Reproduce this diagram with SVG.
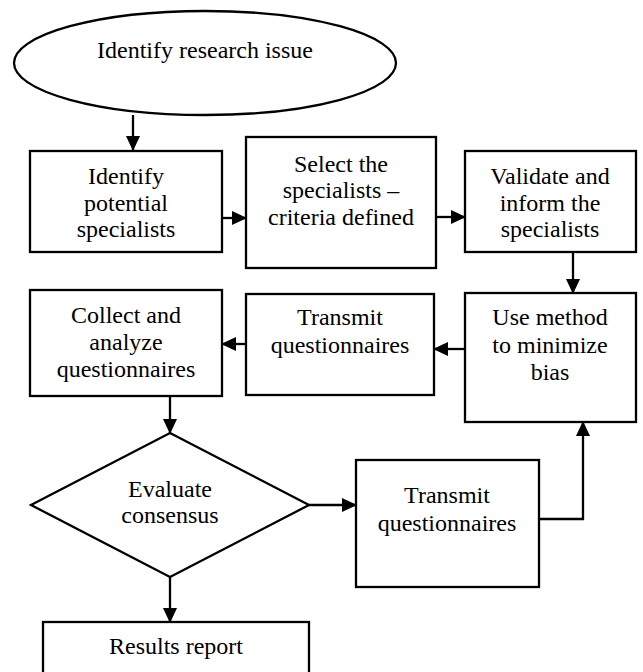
<svg xmlns="http://www.w3.org/2000/svg" width="643" height="672" viewBox="0 0 643 672">
<style>
.s{fill:#fff;stroke:#000;stroke-width:2.3}
.c{fill:none;stroke:#000;stroke-width:2.3}
text{font-family:"Liberation Serif","Times New Roman",serif;font-size:24px;fill:#000;text-anchor:middle}
</style>
<defs>
<marker id="ah" markerUnits="userSpaceOnUse" markerWidth="15" markerHeight="14" refX="14" refY="7" orient="auto">
<path d="M0,0 L15,7 L0,14 z" fill="#000"/>
</marker>
</defs>
<rect width="643" height="672" fill="#fff"/>
<g id="connectors">
<line class="c" x1="133" y1="115" x2="133" y2="150" marker-end="url(#ah)"/>
<line class="c" x1="222" y1="218" x2="246" y2="218" marker-end="url(#ah)"/>
<line class="c" x1="436" y1="217" x2="465" y2="217" marker-end="url(#ah)"/>
<line class="c" x1="573" y1="235" x2="573" y2="293" marker-end="url(#ah)"/>
<line class="c" x1="465" y1="349" x2="434" y2="349" marker-end="url(#ah)"/>
<line class="c" x1="246" y1="344" x2="222" y2="344" marker-end="url(#ah)"/>
<line class="c" x1="170" y1="396" x2="170" y2="433" marker-end="url(#ah)"/>
<line class="c" x1="309" y1="505" x2="356" y2="505" marker-end="url(#ah)"/>
<polyline class="c" points="539,519 583,519 583,422" marker-end="url(#ah)"/>
<line class="c" x1="170" y1="577" x2="170" y2="622" marker-end="url(#ah)"/>
</g>
<g id="n_issue">
<ellipse class="s" cx="205" cy="63" rx="191" ry="52"/>
<text x="205" y="58">Identify research issue</text>
</g>
<g id="n_identify">
<rect class="s" x="30" y="151" width="192" height="101"/>
<text x="126" y="184">Identify</text>
<text x="126" y="211">potential</text>
<text x="126" y="237">specialists</text>
</g>
<g id="n_select">
<rect class="s" x="246" y="137" width="190" height="131"/>
<text x="341" y="172">Select the</text>
<text x="341" y="198">specialists –</text>
<text x="341" y="225">criteria defined</text>
</g>
<g id="n_validate">
<rect class="s" x="465" y="151" width="171" height="101"/>
<text x="550" y="184">Validate and</text>
<text x="550" y="211">inform the</text>
<text x="550" y="237">specialists</text>
</g>
<g id="n_collect">
<rect class="s" x="30" y="290" width="192" height="106"/>
<text x="126" y="323">Collect and</text>
<text x="126" y="350">analyze</text>
<text x="126" y="377">questionnaires</text>
</g>
<g id="n_transmit1">
<rect class="s" x="246" y="294" width="188" height="101"/>
<text x="340" y="325">Transmit</text>
<text x="340" y="353">questionnaires</text>
</g>
<g id="n_method">
<rect class="s" x="465" y="293" width="171" height="129"/>
<text x="550" y="325">Use method</text>
<text x="550" y="353">to minimize</text>
<text x="550" y="380">bias</text>
</g>
<g id="n_evaluate">
<polygon class="s" points="170,433 309,505 170,577 31,505"/>
<text x="170" y="497">Evaluate</text>
<text x="170" y="523">consensus</text>
</g>
<g id="n_transmit2">
<rect class="s" x="356" y="460" width="183" height="127"/>
<text x="447" y="503">Transmit</text>
<text x="447" y="531">questionnaires</text>
</g>
<g id="n_results">
<rect class="s" x="43" y="622" width="266" height="52"/>
<text x="176" y="654">Results report</text>
</g>
</svg>
